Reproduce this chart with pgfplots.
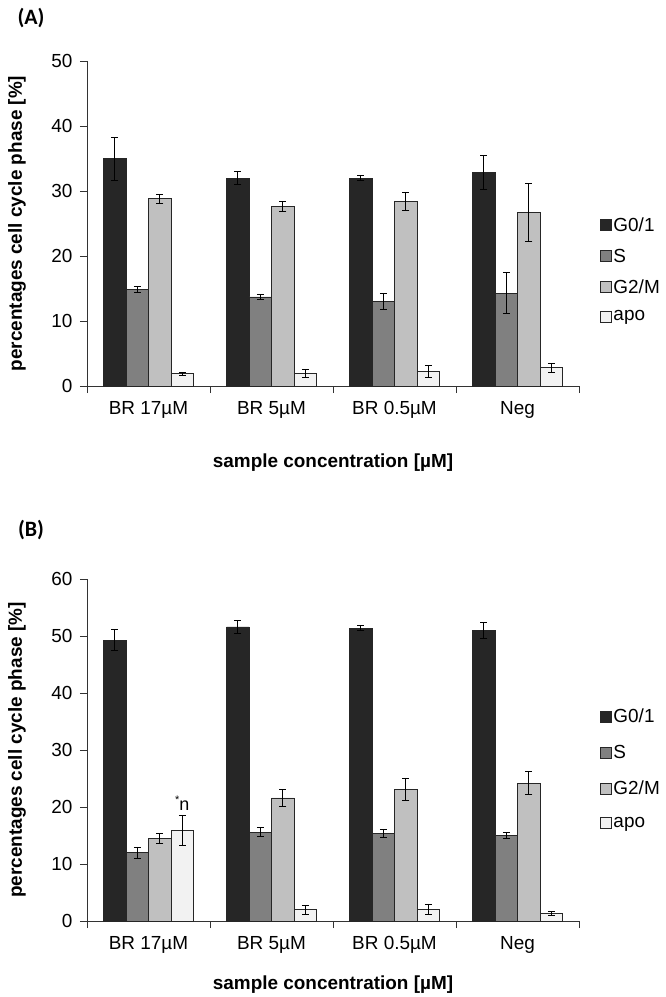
\documentclass[border=0pt]{standalone}
\usepackage{fontspec}
\setmainfont{Liberation Sans}
\newfontfamily\calibri{Carlito}
\usepackage{pgfplots}
\pgfplotsset{compat=1.18}

\definecolor{cG}{HTML}{262626}
\definecolor{cS}{HTML}{808080}
\definecolor{cM}{HTML}{C0C0C0}
\definecolor{cA}{HTML}{F2F2F2}
\definecolor{edge}{HTML}{262626}

\pgfplotsset{
  cellcycle/.style={
    scale only axis, width=492bp, anchor=south west,
    xmin=0, xmax=4, ymin=0,
    axis x line*=bottom, axis y line*=left,
    axis line style={black!80, line width=0.8bp},
    ybar=0pt, bar width=22.5bp,
    xtick={0.5,1.5,2.5,3.5},
    xticklabels={BR 17µM, BR 5µM, BR 0.5µM, Neg},
    major x tick style={draw=none},
    extra x ticks={0,1,2,3,4}, extra x tick labels={},
    extra x tick style={major x tick style={draw=black!80, line width=0.8bp}},
    tick align=outside, major tick length=7bp,
    ytick style={black!80, line width=0.8bp},
    tick label style={font=\fontsize{19}{22}\selectfont},
    xticklabel style={yshift=-5bp},
    yticklabel style={xshift=-4bp},
    /pgf/number format/assume math mode=true,
    xlabel={sample concentration [µM]},
    ylabel={percentages cell cycle phase [\%]},
    label style={font=\bfseries\fontsize{19}{22}\selectfont},
    y label style={at={(axis description cs:0,0.5)}, anchor=center, yshift=70bp},
    legend style={draw=none, fill=none, font=\fontsize{19}{22}\selectfont,
      cells={anchor=west, inner xsep=2bp}, anchor=west},
    legend image code/.code={\draw[#1, draw=edge, line width=0.6bp] (0bp,-5.5bp) rectangle (11bp,5.5bp);},
  },
  eb/.style={draw=edge, line width=0.7bp,
    error bars/.cd, y dir=both, y explicit,
    error bar style={black, line width=0.8bp},
    error mark options={black, mark size=3.5bp, line width=0.8bp, rotate=90}},
}

\begin{document}
\begin{tikzpicture}
\path[use as bounding box] (0,0) rectangle (666bp,-997bp);

\node[font=\calibri\bfseries\fontsize{22}{26}\selectfont] at (31bp,-18bp) {(A)};
\node[font=\calibri\bfseries\fontsize{22}{26}\selectfont] at (31bp,-530bp) {(B)};

% panel A
\begin{axis}[cellcycle, at={(87bp,-386bp)}, height=325bp,
  ymax=50, ytick={0,10,...,50},
  x label style={at={(axis description cs:0.5,0)}, anchor=center, yshift=-77bp},
  legend style={at={(1.036,0.357)}, row sep=12bp}]
\addplot[fill=cG, eb] coordinates {(0.5,35.0) +- (0,3.3) (1.5,32.0) +- (0,1.0) (2.5,32.0) +- (0,0.4) (3.5,32.9) +- (0,2.6)};
\addplot[fill=cS, eb] coordinates {(0.5,14.8) +- (0,0.45) (1.5,13.7) +- (0,0.35) (2.5,13.0) +- (0,1.2) (3.5,14.3) +- (0,3.2)};
\addplot[fill=cM, eb] coordinates {(0.5,28.8) +- (0,0.7) (1.5,27.6) +- (0,0.8) (2.5,28.4) +- (0,1.4) (3.5,26.7) +- (0,4.5)};
\addplot[fill=cA, eb] coordinates {(0.5,1.9) +- (0,0.2) (1.5,2.0) +- (0,0.6) (2.5,2.3) +- (0,0.9) (3.5,2.8) +- (0,0.7)};
\legend{G0/1, S, G2/M, apo}
\end{axis}

% panel B
\begin{axis}[cellcycle, at={(87bp,-921bp)}, height=342bp,
  ymax=60, ytick={0,10,...,60},
  x label style={at={(axis description cs:0.5,0)}, anchor=center, yshift=-64bp},
  legend style={at={(1.036,0.444)}, row sep=17bp}]
\addplot[fill=cG, eb] coordinates {(0.5,49.3) +- (0,1.9) (1.5,51.6) +- (0,1.2) (2.5,51.4) +- (0,0.4) (3.5,51.0) +- (0,1.4)};
\addplot[fill=cS, eb] coordinates {(0.5,12.0) +- (0,1.0) (1.5,15.6) +- (0,0.8) (2.5,15.3) +- (0,0.7) (3.5,15.0) +- (0,0.5)};
\addplot[fill=cM, eb] coordinates {(0.5,14.5) +- (0,0.9) (1.5,21.6) +- (0,1.5) (2.5,23.1) +- (0,2.0) (3.5,24.2) +- (0,2.0)};
\addplot[fill=cA, eb] coordinates {(0.5,15.9) +- (0,2.6) (1.5,2.0) +- (0,0.8) (2.5,2.1) +- (0,0.9) (3.5,1.3) +- (0,0.4)};
\legend{G0/1, S, G2/M, apo}
\node[anchor=south, font=\fontsize{18}{21}\selectfont, inner sep=1bp] at (axis cs:0.774,19.2) {\raisebox{0.4em}{\fontsize{11}{12}\selectfont *}n};
\end{axis}
\end{tikzpicture}
\end{document}
